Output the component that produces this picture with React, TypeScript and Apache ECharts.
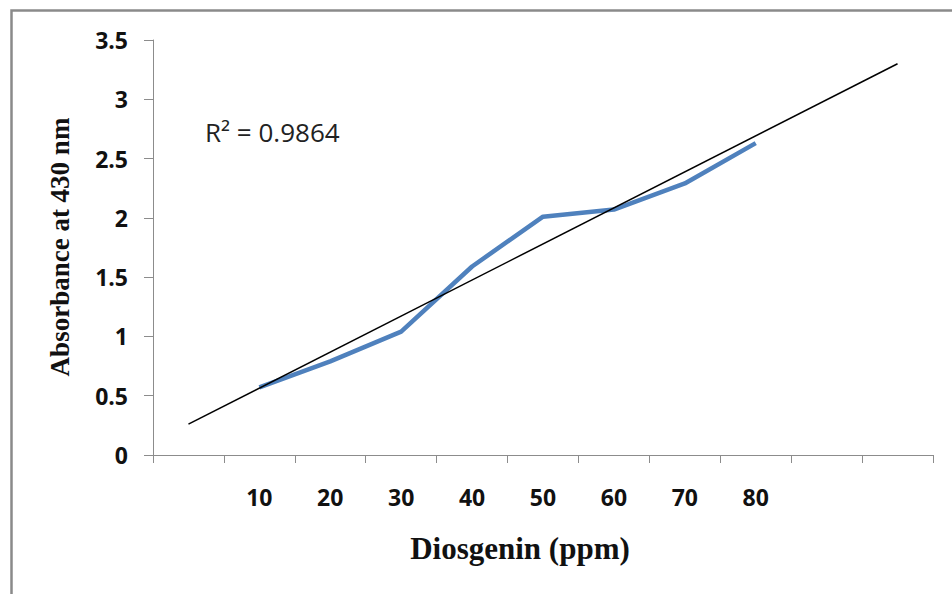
import React, { useEffect, useRef } from "react";
import * as echarts from "echarts";

const categories = ["", "10", "20", "30", "40", "50", "60", "70", "80", "", ""];
const absorbance = [null, 0.57, 0.79, 1.04, 1.59, 2.01, 2.07, 2.29, 2.63, null, null];
const trendStart = [0, 0.26];
const trendEnd = [10, 3.3];
const yTicks = { min: 0, max: 3.5, interval: 0.5 };
const r2Label = "R² = 0.9864";
const xTitle = "Diosgenin (ppm)";
const yTitle = "Absorbance at 430 nm";

export default function App() {
  const ref = useRef<HTMLDivElement>(null);
  useEffect(() => {
    if (!ref.current) return;
    const chart = echarts.init(ref.current, null, { renderer: "svg" });
    chart.setOption({
      animation: false,
      backgroundColor: "#ffffff",
      grid: { left: 153, right: 19, top: 40, bottom: 139 },
      xAxis: {
        type: "category",
        data: categories,
        boundaryGap: true,
        axisLine: { lineStyle: { color: "#8c8c8c", width: 1 } },
        axisTick: { show: true, length: 8, lineStyle: { color: "#8c8c8c" }, interval: 0 },
        axisLabel: {
          interval: 0,
          margin: 30,
          color: "#111",
          fontSize: 23,
          fontWeight: "bold",
          fontFamily: "Open Sans, Liberation Sans, sans-serif",
        },
        splitLine: { show: false },
      },
      yAxis: {
        type: "value",
        min: yTicks.min,
        max: yTicks.max,
        interval: yTicks.interval,
        axisLine: { show: true, lineStyle: { color: "#8c8c8c", width: 1 } },
        axisTick: { show: true, length: 9, lineStyle: { color: "#8c8c8c" } },
        axisLabel: {
          margin: 25,
          color: "#111",
          fontSize: 23,
          fontWeight: "bold",
          fontFamily: "Open Sans, Liberation Sans, sans-serif",
        },
        splitLine: { show: false },
      },
      series: [
        {
          type: "line",
          data: absorbance,
          symbol: "none",
          lineStyle: { color: "#4F81BD", width: 4.5 },
          z: 2,
        },
        {
          type: "line",
          data: [trendStart, trendEnd],
          symbol: "none",
          lineStyle: { color: "#000000", width: 1.5 },
          z: 3,
        },
      ],
      graphic: [
        {
          type: "rect",
          left: 9,
          top: 8,
          shape: { width: 960, height: 600 },
          style: { fill: "none", stroke: "#8a8a8a", lineWidth: 2.5 },
          silent: true,
        },
        {
          type: "text",
          x: 205,
          y: 132,
          style: {
            text: r2Label,
            fontSize: 26,
            fill: "#222",
            textAlign: "left",
            textVerticalAlign: "middle",
            fontFamily: "Open Sans, Liberation Sans, sans-serif",
          },
        },
        {
          type: "text",
          x: 520,
          y: 548,
          style: {
            text: xTitle,
            fontSize: 31,
            fontWeight: "bold",
            fill: "#111",
            textAlign: "center",
            textVerticalAlign: "middle",
            fontFamily: "Liberation Serif, Times New Roman, serif",
          },
        },
        {
          type: "text",
          x: 60,
          y: 247,
          rotation: Math.PI / 2,
          style: {
            text: yTitle,
            fontSize: 27,
            fontWeight: "bold",
            fill: "#111",
            textAlign: "center",
            textVerticalAlign: "middle",
            fontFamily: "Liberation Serif, Times New Roman, serif",
          },
        },
      ],
    });
    return () => chart.dispose();
  }, []);
  return (
    <div
      ref={ref}
      style={{ position: "absolute", left: 0, top: 0, width: 952, height: 594 }}
    />
  );
}
